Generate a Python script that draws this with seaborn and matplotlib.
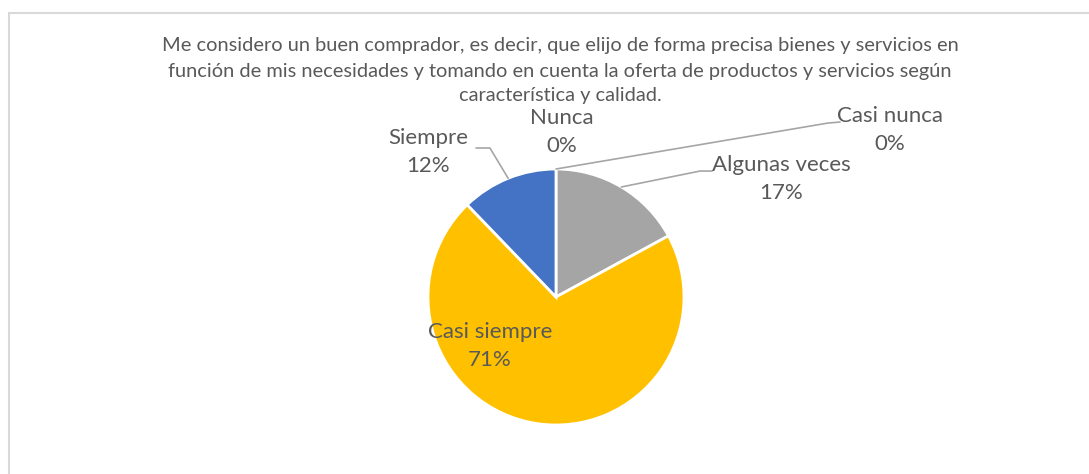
import numpy as np
import matplotlib.pyplot as plt
import matplotlib.patches as mpatches
import seaborn as sns

# data (counts read as shares of 41 answers)
categories = ["Nunca", "Casi nunca", "Algunas veces", "Casi siempre", "Siempre"]
counts = [0, 0, 7, 29, 5]
colors = ["#ED7D31", "#A5A5A5", "#A5A5A5", "#FFC000", "#4472C4"]
title_lines = [
    "Me considero un buen comprador, es decir, que elijo de forma precisa bienes y servicios en",
    "función de mis necesidades y tomando en cuenta la oferta de productos y servicios según",
    "característica y calidad.",
]

TXT = "#595959"
LEAD = "#A6A6A6"

sns.set_theme(style="white")
plt.rcParams["font.family"] = ["Lato", "DejaVu Sans"]

W, H = 1089, 474
fig = plt.figure(figsize=(W / 100, H / 100), dpi=100, facecolor="white")

# chart frame
fig.patches.append(mpatches.Rectangle((9 / W, -0.05), 1.1, 1 - 13 / H + 0.05,
                                      transform=fig.transFigure, fill=False,
                                      edgecolor="#D9D9D9", linewidth=1.5))

cx, cy, r = 556, 297, 128
ax = fig.add_axes([(cx - r) / W, (H - cy - r) / H, 2 * r / W, 2 * r / H])
wedges, _ = ax.pie(counts, colors=colors, startangle=90, counterclock=False,
                   wedgeprops=dict(edgecolor="white", linewidth=2))
ax.set_xlim(-1, 1); ax.set_ylim(-1, 1)
ax.axis("off")

total = sum(counts)
pcts = [f"{round(c / total * 100)}%" for c in counts]

# label centers, leader elbow/end (data units, radius = 1)
label_pos = {
    "Nunca": (0.047, 1.289),
    "Casi nunca": (2.609, 1.305),
    "Algunas veces": (1.758, 0.922),
    "Casi siempre": (-0.516, -0.383),
    "Siempre": (-1.0, 1.133),
}
leaders = {
    "Casi nunca": [(2.125, 1.359), (2.219, 1.367)],
    "Algunas veces": [(1.125, 0.984), (1.219, 0.984)],
    "Siempre": [(-0.516, 1.164), (-0.625, 1.164)],
}

for w, cat, p in zip(wedges, categories, pcts):
    ang = np.deg2rad((w.theta1 + w.theta2) / 2)
    ax_, ay_ = np.cos(ang), np.sin(ang)
    if cat in leaders:
        pts = [(ax_, ay_)] + leaders[cat]
        xs, ys = zip(*pts)
        ax.plot(xs, ys, color=LEAD, linewidth=1.2, clip_on=False)
    x, y = label_pos[cat]
    ax.text(x, y, f"{cat}\n{p}", ha="center", va="center", fontsize=16,
            color=TXT, linespacing=1.5)

for i, line in enumerate(title_lines):
    fig.text(560 / W, 1 - (46 + 25 * i) / H, line, ha="center", va="center",
             fontsize=14.4, color=TXT)

plt.savefig("out.png", dpi=100, facecolor="white")
